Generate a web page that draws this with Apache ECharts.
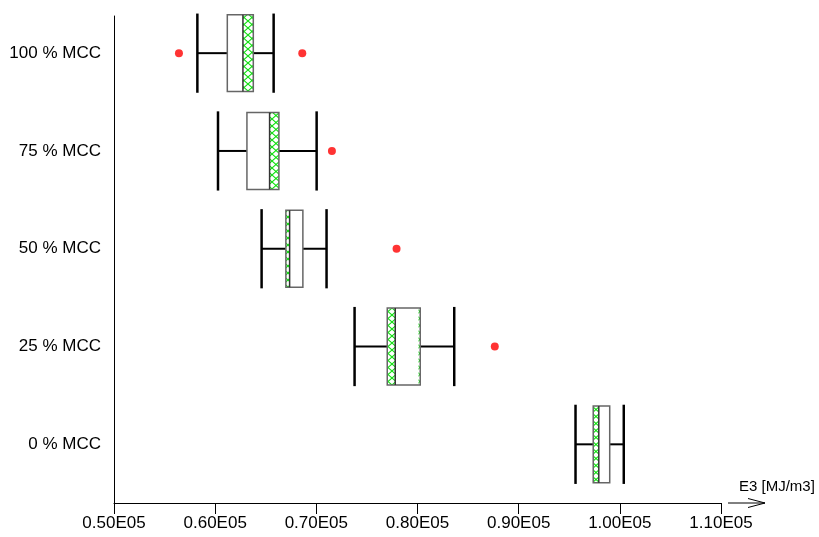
<!DOCTYPE html>
<html><head><meta charset="utf-8">
<script src="https://cdn.jsdelivr.net/npm/echarts@6/dist/echarts.min.js"></script>
<style>html,body{margin:0;padding:0;background:#fff}#c{width:819px;height:537px}</style>
</head><body><div id="c"></div>
<script>
// ---- data (bottom to top) ----
const categories  = ['0 % MCC', '25 % MCC', '50 % MCC', '75 % MCC', '100 % MCC'];
const whiskerLow  = [95620, 73780, 64590, 60280, 58240];
const boxLow      = [97370, 77010, 66990, 63140, 61200];
const boxHigh     = [99000, 80270, 68670, 66300, 63770];
const whiskerHigh = [100390, 83630, 71010, 70030, 65780];
const medianVal   = [97920, 77800, 67360, 65380, 62745];
// hatched bands: [category index, low, high]
const hatchBands  = [[0, 97370, 97920], [1, 77010, 77800], [1, 80100, 80270], [2, 66990, 67360], [3, 65380, 66300], [4, 62745, 63770]];
const outlierCat  = ['100 % MCC', '100 % MCC', '75 % MCC', '50 % MCC', '25 % MCC'];
const outlierVal  = [56420, 68610, 71540, 77930, 87640];
const xTickValues = [50000, 60000, 70000, 80000, 90000, 100000, 110000];
const xTickLabels = ['0.50E05', '0.60E05', '0.70E05', '0.80E05', '0.90E05', '1.00E05', '1.10E05'];
const xAxisName   = 'E3 [MJ/m3]';

// hatch pattern
const PW = 8, PH = 7;
const pc = document.createElement('canvas');
pc.width = PW; pc.height = PH;
const g = pc.getContext('2d');
g.fillStyle = '#fff'; g.fillRect(0, 0, PW, PH);
g.strokeStyle = '#11e011'; g.lineWidth = 1.1;
g.beginPath(); g.moveTo(0, 0); g.lineTo(PW, PH); g.moveTo(PW, 0); g.lineTo(0, PH); g.stroke();
const hatchFill = { image: pc, repeat: 'repeat' };

const boxData = categories.map((c, i) => [i + 1, whiskerLow[i], boxLow[i], boxHigh[i], whiskerHigh[i], medianVal[i], i]);

const chart = echarts.init(document.getElementById('c'), null, { renderer: 'canvas' });
const font = '"Liberation Sans", Arial, sans-serif';

chart.setOption({
  animation: false,
  backgroundColor: '#fff',
  grid: { left: 114, right: 98, top: 16, bottom: 34, containLabel: false, outerBoundsMode: 'none' },
  xAxis: {
    type: 'value', min: 50000, max: 110000, interval: 10000,
    axisLine: { show: true, onZero: false, lineStyle: { color: '#000', width: 1 } },
    axisTick: { show: true, length: 11, lineStyle: { color: '#000', width: 1 } },
    splitLine: { show: false },
    axisLabel: {
      color: '#000', fontSize: 17, fontFamily: font, margin: 12,
      formatter: v => { const k = xTickValues.indexOf(v); return k >= 0 ? xTickLabels[k] : ''; }
    }
  },
  yAxis: {
    type: 'value', min: 0.4, max: 5.38,
    axisLine: { show: true, onZero: false, lineStyle: { color: '#000', width: 1 } },
    axisTick: { show: false },
    splitLine: { show: false },
    axisLabel: {
      customValues: [1, 2, 3, 4, 5],
      color: '#000', fontSize: 17, fontFamily: font, margin: 13,
      formatter: v => categories[Math.round(v) - 1] || ''
    }
  },
  graphic: [
    { type: 'polyline', shape: { points: [[728, 503], [765, 503]] }, style: { stroke: '#000', lineWidth: 1 } },
    { type: 'polyline', shape: { points: [[748, 498.5], [765, 503], [748, 507.5]] }, style: { stroke: '#000', lineWidth: 1, fill: null } },
    { type: 'text', x: 739, y: 487, style: { text: xAxisName, fontSize: 15, fontFamily: font, fill: '#000', verticalAlign: 'middle', align: 'left' } }
  ],
  series: [
    {
      type: 'custom',
      data: boxData,
      encode: { x: [1, 2, 3, 4], y: 0 },
      renderItem: (params, api) => {
        const y = api.value(0);
        const idx = api.value(6);
        const unit = api.size([0, 1])[1];
        const hb = unit * 0.393, hc = unit * 0.405;
        const px = v => api.coord([v, y])[0];
        const yc = api.coord([0, y])[1];
        const wl = px(api.value(1)), bl = px(api.value(2)), bh = px(api.value(3)), wh = px(api.value(4)), md = px(api.value(5));
        const black = { stroke: '#000', lineWidth: 2 };
        const children = [
          { type: 'line', shape: { x1: wl, y1: yc, x2: bl, y2: yc }, style: black },
          { type: 'line', shape: { x1: bh, y1: yc, x2: wh, y2: yc }, style: black },
          { type: 'line', shape: { x1: wl, y1: yc - hc, x2: wl, y2: yc + hc }, style: { stroke: '#000', lineWidth: 2.5 } },
          { type: 'line', shape: { x1: wh, y1: yc - hc, x2: wh, y2: yc + hc }, style: { stroke: '#000', lineWidth: 2.5 } },
          { type: 'rect', shape: { x: bl, y: yc - hb, width: bh - bl, height: 2 * hb }, style: { fill: '#fff', stroke: null } }
        ];
        hatchBands.filter(b => b[0] === idx).forEach(b => {
          const a = px(b[1]), c = px(b[2]);
          children.push({ type: 'rect', shape: { x: a, y: yc - hb, width: c - a, height: 2 * hb }, style: { fill: hatchFill, stroke: null } });
        });
        children.push({ type: 'rect', shape: { x: bl, y: yc - hb, width: bh - bl, height: 2 * hb }, style: { fill: null, stroke: '#666', lineWidth: 1.5 } });
        children.push({ type: 'line', shape: { x1: md, y1: yc - hb, x2: md, y2: yc + hb }, style: { stroke: '#333', lineWidth: 1.5 } });
        return { type: 'group', children };
      }
    },
    {
      type: 'scatter',
      data: outlierVal.map((v, i) => [v, categories.indexOf(outlierCat[i]) + 1]),
      symbol: 'circle', symbolSize: 8,
      itemStyle: { color: '#ff0000' }
    }
  ]
});
</script></body></html>
